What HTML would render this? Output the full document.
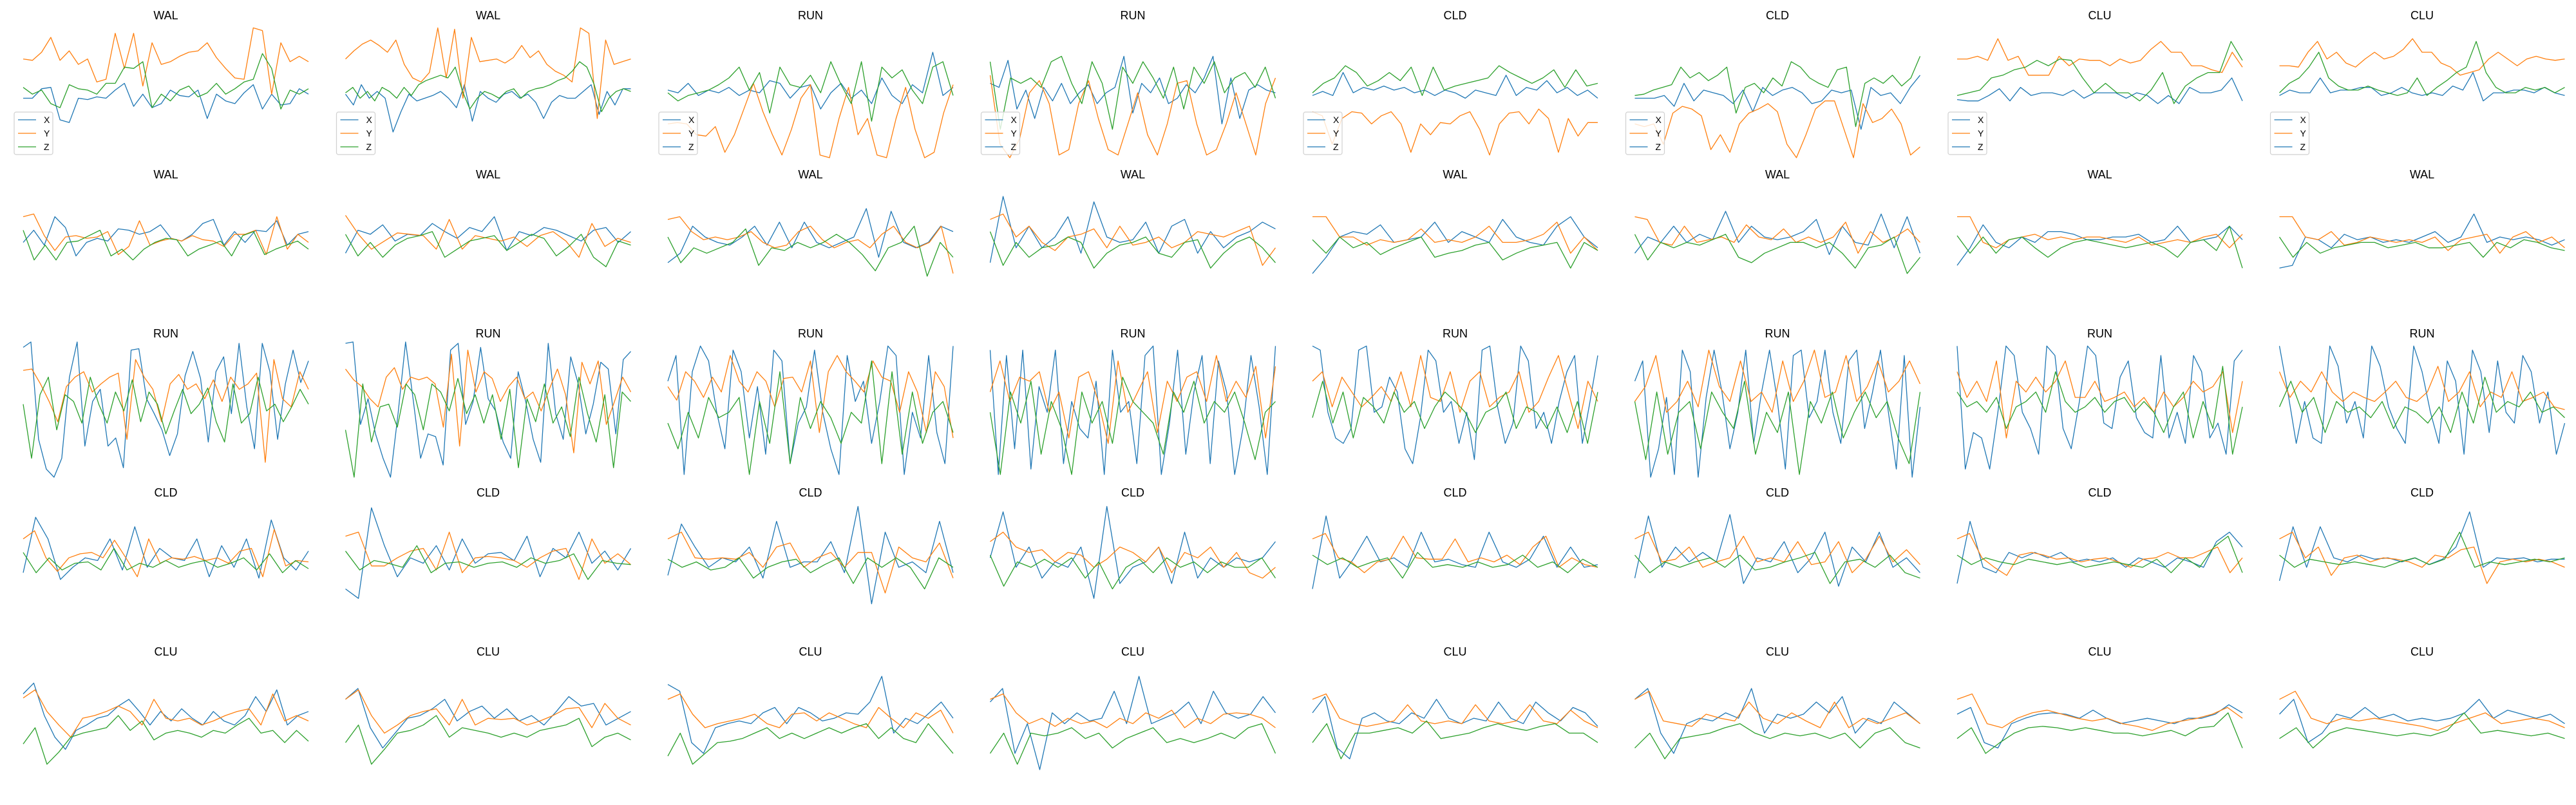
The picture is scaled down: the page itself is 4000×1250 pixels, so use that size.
<!DOCTYPE html>
<html>
<head>
<meta charset="utf-8">
<style>
  html,body{margin:0;padding:0;background:#fff;}
  svg{display:block;}
  text{font-family:"Liberation Sans","DejaVu Sans",sans-serif;}
</style>
</head>
<body>
<svg id="chart" width="4000" height="1250" viewBox="0 0 4000 1250" xmlns="http://www.w3.org/2000/svg"></svg>
<script>
// Panel titles (row-major, 5 rows x 8 columns)
const panelTitles = [
  "WAL","WAL","RUN","RUN","CLD","CLD","CLU","CLU",
  "WAL","WAL","WAL","WAL","WAL","WAL","WAL","WAL",
  "RUN","RUN","RUN","RUN","RUN","RUN","RUN","RUN",
  "CLD","CLD","CLD","CLD","CLD","CLD","CLD","CLD",
  "CLU","CLU","CLU","CLU","CLU","CLU","CLU","CLU"
];
const seriesNames = ["X","Y","Z"];

// X-axis signal per panel (normalized units 0..100 of each panel's y range)
const xSeries = [
[45,45,52,53,29,27,45,44,46,45,51,56,39,48,38,41,51,47,46,51,30,48,43,41,49,55,37,48,40,41,52,48],
[48,40,55,45,50,45,20,35,48,43,45,47,50,45,38,55,28,50,45,42,48,50,45,48,42,30,42,47,45,45,50,55,33,50,40,52,52],
[51,49,56,47,51,49,53,47,51,49,58,56,45,53,55,37,49,56,45,51,41,60,47,41,55,49,79,47,53],
[56,53,73,37,51,30,53,43,56,41,49,55,41,49,53,76,34,56,49,60,41,45,55,49,60,76,26,60,30,51,55,51,49],
[47,50,47,64,49,53,51,54,51,53,49,51,47,51,49,45,51,49,47,62,47,53,51,58,49,53,47,51,45],
[45,45,45,47,39,56,43,51,49,47,41,51,35,53,47,51,53,49,41,43,51,49,51,22,53,47,49,41,53,62],
[44,43,43,47,52,43,53,47,49,49,47,51,45,49,49,49,45,49,47,41,47,41,53,49,49,51,60,43],
[47,51,49,49,60,49,51,51,53,53,47,49,53,49,47,49,47,54,51,64,43,49,49,51,51,49,53,49,47],
[56,65,54,75,67,46,56,59,57,66,65,62,64,69,59,57,62,70,73,54,64,56,65,64,72,54,62,64],
[48,65,62,69,57,62,61,70,64,59,67,64,75,50,64,61,67,65,61,57,65,67,56,64],
[41,48,68,60,56,54,60,68,54,71,52,71,56,52,56,60,81,45,79,56,52,56,68,64],
[41,90,52,68,52,60,75,48,86,60,56,58,71,48,68,73,48,64,52,60,64,71,66],
[33,45,60,64,62,69,56,58,60,71,56,64,60,56,73,60,56,54,68,75,60,52],
[48,60,56,68,56,62,58,79,56,68,60,58,60,64,73,47,68,56,54,77,52,75,48],
[39,52,69,56,52,60,56,64,64,62,58,58,60,60,62,56,58,68,56,58,60,68,58],
[37,39,60,58,52,62,58,60,56,58,56,60,64,56,60,77,56,60,58,60,58,54,58],
[96,100,28,6,0,14,74,100,23,56,65,23,29,7,94,95,58,47,35,16,32,75,93,73,26,78,89,47,99,52,21,99,78,28,69,94,70,86],
[99,100,39,58,32,14,0,47,100,58,14,32,30,9,94,99,39,56,96,58,49,26,14,78,56,28,11,99,47,28,89,69,32,54,85,80,32,87,93],
[71,90,2,78,97,86,48,21,94,78,29,67,17,94,86,10,40,52,94,48,21,2,90,56,71,25,56,97,90,2,48,29,90,33,10,97],
[94,2,90,21,94,6,67,48,94,10,56,36,29,71,2,94,48,56,10,90,97,2,40,94,17,63,90,10,86,63,2,36,90,52,2,97],
[97,94,48,29,25,36,94,97,48,52,74,63,21,10,44,94,86,48,56,25,48,13,94,97,52,25,40,97,86,36,48,25,56,78,90,25,56,90],
[71,86,0,21,59,2,94,78,0,59,94,63,21,48,94,25,63,94,56,6,90,94,44,56,94,48,25,86,94,36,63,94,48,6,90,0,52],
[97,6,33,29,6,48,97,90,48,36,17,97,90,36,21,56,97,90,40,36,74,86,44,33,29,90,29,48,25,90,78,29,40,17,86,94],
[97,63,25,56,29,25,97,82,40,56,29,97,82,52,36,25,97,78,48,25,86,71,17,94,78,33,86,48,40,90,78,40,63,17,40],
[47,88,72,42,51,58,56,72,49,81,51,65,58,56,72,44,67,51,72,43,86,58,49,63],
[35,28,95,67,44,58,54,67,49,72,54,61,62,56,74,44,65,58,77,54,63,49,65],
[45,83,66,51,58,55,66,43,85,51,55,55,70,47,96,24,77,51,55,47,85,47],
[58,92,51,66,43,55,51,66,28,96,39,51,55,66,39,77,43,58,51,58,55,58,70],
[35,89,43,57,74,55,58,51,77,55,57,53,51,77,55,51,57,74,51,66,51,53],
[43,89,51,66,55,62,55,90,39,58,55,70,47,58,77,37,66,55,77,51,58,47],
[39,85,51,47,62,58,62,58,62,55,57,55,58,51,58,55,51,58,55,51,70,77,66],
[41,81,51,81,58,55,60,57,58,55,58,53,57,66,92,51,58,57,58,55,57,57],
[75,83,59,43,34,48,52,57,59,66,71,62,52,62,55,64,57,52,62,55,52,59,73,62,78,52,59,62],
[71,79,50,35,46,57,59,64,71,55,62,66,57,64,55,59,52,62,73,66,68,52,57,62],
[82,77,39,31,50,53,55,53,61,65,53,65,61,55,57,61,60,69,88,46,57,53,61,69,57],
[69,79,31,53,19,61,53,61,55,57,77,53,88,53,57,61,69,53,77,61,57,60,73,61],
[61,73,35,27,57,61,55,53,61,57,71,57,53,57,55,69,57,53,69,61,55,65,61,51],
[71,79,46,31,53,57,55,61,57,79,46,60,57,60,69,61,73,46,57,53,69,61,53],
[60,65,39,35,53,57,60,61,60,57,63,57,53,55,57,55,53,57,57,60,67,61],
[60,71,39,46,60,57,65,57,60,55,57,55,57,61,71,57,63,60,57,60,53]
];

// Y-axis signal per panel
const ySeries = [
[74,73,79,90,73,80,70,74,57,59,93,67,93,54,86,70,72,76,79,80,86,75,67,60,59,97,95,48,86,72,76,72],
[74,80,85,88,84,79,88,70,60,57,64,97,60,96,45,90,72,73,74,71,75,84,75,80,70,65,62,57,97,93,30,88,70,72,74],
[26,27,26,18,17,24,5,18,37,56,35,18,3,22,45,55,3,1,30,53,18,30,3,1,30,53,22,1,5,34,55],
[62,11,1,15,49,58,41,3,7,41,58,30,7,3,26,49,18,3,26,56,58,26,3,7,26,49,26,3,41,60],
[35,32,11,30,35,34,26,32,35,26,5,26,18,27,26,32,35,22,3,26,34,35,26,37,30,5,30,17,27,27],
[26,24,26,11,34,39,37,32,7,18,5,26,34,37,41,35,11,1,18,37,43,43,22,1,41,27,30,37,26,3,9],
[74,74,76,73,89,73,76,62,62,62,76,69,74,73,73,69,74,71,73,81,87,79,79,69,69,66,64,79,68],
[69,69,68,79,87,74,79,71,68,74,79,74,76,81,89,79,79,71,68,62,64,66,74,79,74,69,74,76,74,73,74],
[75,77,61,50,60,61,59,60,64,47,53,72,54,57,59,57,61,58,57,53,62,62,65,47,75,51,62,56],
[76,62,51,57,63,62,61,51,73,51,61,59,57,60,53,61,64,57,45,70,53,59,56],
[73,75,64,58,60,58,60,64,56,52,54,64,68,58,52,56,58,52,62,68,56,52,56,68,33],
[73,77,60,68,56,50,60,62,66,52,68,54,56,60,52,56,64,62,60,64,68,39,52],
[75,75,60,60,54,58,56,58,66,56,58,56,60,68,56,56,58,62,71,48,60,50],
[75,73,56,54,68,56,58,60,56,69,60,58,66,56,60,56,60,71,48,64,56,60,66,56],
[75,75,56,52,58,60,62,58,60,58,60,60,58,56,60,54,56,58,56,60,62,52,62],
[75,75,60,58,64,54,56,60,58,56,58,56,60,50,58,60,62,48,60,64,56,60,52],
[79,80,69,56,41,67,74,78,63,69,74,77,28,87,74,65,41,69,76,65,69,58,72,56,74,65,69,77,11,87,58,52,78,65],
[80,72,67,58,52,74,81,65,74,72,74,69,37,91,23,94,63,78,73,56,67,74,58,63,49,65,80,61,18,85,69,86,39,56,74,63],
[67,57,78,71,59,74,63,90,71,63,78,71,52,73,74,63,86,33,78,90,78,71,63,86,74,71,48,78,63,33,78,67,29],
[63,86,56,74,71,78,48,63,29,74,78,56,25,86,48,63,78,33,71,56,74,78,56,90,56,71,59,82,29,82],
[71,78,52,74,63,52,59,67,56,78,52,90,59,56,78,48,71,78,52,59,63,78,48,56,74,90,63,36,71,56],
[56,67,90,48,56,71,52,94,67,56,86,56,63,48,86,56,71,94,59,63,90,56,67,86,63,71,86,69],
[78,59,71,56,86,29,71,63,74,63,71,86,59,59,71,56,59,63,52,59,48,63,52,59,71,63,67,78,33,71],
[78,59,71,63,78,63,56,63,59,56,63,71,59,56,63,82,56,63,78,52,63,59,78,56,59,63,52,50],
[72,78,58,48,58,61,62,58,71,58,44,72,54,58,57,59,56,58,54,63,65,44,79,52,56,55],
[74,77,52,52,58,63,65,49,77,47,58,59,58,56,51,58,63,65,42,72,54,61,53],
[72,77,58,57,58,57,62,51,66,69,51,58,62,51,62,62,32,66,58,55,69,43],
[70,77,66,62,64,55,62,60,51,57,66,62,55,66,47,62,58,66,51,62,47,43,51],
[72,76,58,55,47,55,57,74,58,57,57,72,55,58,55,60,53,66,74,51,58,53,51],
[72,77,55,57,66,51,55,58,74,55,58,55,70,53,55,70,47,57,74,55,64,53],
[72,76,58,51,45,60,62,60,57,58,55,57,58,55,51,57,58,62,58,58,62,66,47,58],
[72,77,58,66,45,58,60,55,58,57,55,51,60,58,64,66,39,55,57,55,57,55,51],
[72,78,62,52,43,57,59,62,66,62,52,71,57,55,57,52,55,59,62,64,52,75,55,59,55],
[71,78,59,46,52,59,62,64,52,71,52,57,56,57,52,55,59,64,65,50,68,57,52],
[71,75,60,50,53,55,57,60,53,50,60,61,55,61,57,53,50,65,57,50,61,57,63,46],
[71,75,61,53,57,51,57,53,55,50,57,53,61,57,63,50,57,53,60,61,60,57,50],
[71,75,57,53,51,53,55,67,55,53,55,53,67,55,53,55,67,55,53,63,55,50],
[71,77,55,53,51,60,57,55,69,57,53,61,55,50,69,50,57,53,57,61,53],
[71,75,53,50,57,61,63,60,57,55,57,53,51,48,53,55,57,60,65,57],
[71,77,57,53,57,55,57,55,53,51,48,53,57,61,53,55,57,55,50]
];

// Z-axis signal per panel
const zSeries = [
[53,48,51,41,38,55,52,51,48,56,56,68,67,72,38,48,43,51,54,46,49,56,48,52,57,59,78,67,37,51,48,52],
[49,53,45,50,43,53,50,45,53,47,55,58,60,62,60,68,50,37,45,50,48,45,50,52,45,50,52,53,55,58,60,65,72,68,55,35,45,50,52,50],
[49,43,47,49,51,55,60,68,51,64,34,68,55,53,62,49,72,55,41,72,28,68,60,66,51,41,68,72,47],
[72,22,60,56,60,53,72,76,56,41,72,56,22,68,56,72,60,45,68,37,68,56,72,49,60,64,53,68,45],
[49,56,60,69,64,54,58,64,58,68,47,68,51,54,56,58,60,69,64,60,56,60,66,53,66,54,56],
[47,48,51,53,55,68,60,64,58,62,68,34,53,56,49,60,54,72,68,60,56,53,66,68,24,56,60,56,62,54,60,76],
[47,49,51,60,62,66,68,73,69,74,73,60,49,56,49,49,43,51,64,41,54,60,64,64,87,73],
[49,56,60,68,79,60,54,51,51,54,51,49,47,49,60,47,53,58,64,68,87,64,53,49,49,53,51,53,49,53],
[65,43,54,43,56,57,61,65,46,51,43,51,56,59,58,46,51,54,57,46,61,64,47,51,54,57,51],
[62,46,56,45,54,59,61,64,45,51,57,59,61,50,56,62,59,46,53,62,45,38,57,54],
[60,41,52,48,52,56,66,39,52,50,56,52,56,62,56,47,35,52,56,68,31,56,45],
[64,39,56,45,52,54,60,56,37,48,54,56,60,48,45,56,58,37,48,56,60,52,41],
[58,48,60,52,56,47,52,56,60,45,48,50,54,56,43,48,52,54,56,37,56,50],
[62,43,56,52,56,54,58,62,45,41,48,52,56,56,52,56,48,37,52,54,60,33,45],
[61,48,60,48,58,60,52,45,52,56,58,56,54,52,54,56,52,45,56,58,50,68,37],
[60,45,56,48,52,54,56,56,52,54,56,52,52,54,56,45,56,52,58,56,52,50],
[54,14,61,74,35,61,56,40,74,54,40,63,49,72,41,63,54,32,49,65,47,54,66,41,26,69,40,47,74,49,54,41,52,65,54],
[35,0,69,26,52,54,37,69,61,35,69,63,49,73,47,61,40,61,28,65,7,58,41,69,40,52,30,74,47,26,61,7,63,56],
[40,21,48,29,59,44,48,59,2,56,25,78,10,59,36,56,44,25,48,40,86,10,78,17,63,25,48,56,33],
[48,2,63,40,71,17,56,36,2,63,40,56,25,74,56,48,40,17,63,48,71,40,56,48,63,40,13,48,56],
[44,71,40,63,29,59,52,40,63,48,56,36,52,63,56,48,33,48,52,63,36,52,48,36,52,33,56,25,63],
[56,13,63,17,48,56,21,63,48,36,71,17,48,33,63,2,56,40,63,29,48,63,44,56,29,10,63],
[63,52,56,48,59,36,52,56,63,48,78,56,48,52,59,48,56,59,48,56,48,33,52,63,29,56,36,82,17,52],
[52,71,48,59,33,56,48,52,44,56,36,52,48,40,52,33,63,40,74,48,56,52,63,48,52,44],
[62,47,58,49,54,55,49,65,49,54,51,56,51,54,56,51,54,58,49,61,47,56,50],
[63,49,56,54,51,67,47,54,55,51,54,55,51,58,54,56,61,42,56,54,53],
[57,51,55,49,51,58,43,51,55,57,47,53,58,39,58,51,58,51,35,58,51],
[60,37,55,51,57,51,58,43,55,35,51,57,47,58,51,55,47,55,51,51,58,43],
[60,53,58,51,55,58,43,62,51,53,51,55,51,53,60,51,55,47,57,51],
[60,47,55,51,55,58,51,60,49,51,55,58,62,39,55,57,51,60,47,43],
[60,53,58,55,53,57,55,53,55,51,53,55,53,51,57,47,58,51,66,74,47],
[60,51,57,55,53,55,53,51,55,58,53,57,77,51,55,53,55,57,55,58],
[38,50,23,32,43,46,48,50,59,48,55,41,46,48,46,43,48,46,52,57,46,48,39,48,40],
[39,52,23,34,46,48,52,59,43,50,48,46,43,46,43,48,50,52,57,36,43,46,41],
[29,46,23,31,39,40,42,46,50,42,46,42,46,50,46,50,53,42,50,42,39,53,42,31],
[31,46,23,46,44,46,50,42,46,35,42,46,50,39,42,39,42,46,42,50,53,31],
[39,53,27,46,46,48,50,46,55,42,44,46,50,53,50,48,51,53,46,46,39],
[35,46,27,42,44,46,50,53,46,42,46,44,46,42,46,35,46,50,39,35],
[42,50,31,39,46,50,51,50,48,50,48,46,46,44,46,48,44,50,51,61,35],
[42,50,35,46,50,48,46,44,46,44,48,61,46,48,46,44,46,42]
];

const svgNS = "http://www.w3.org/2000/svg";
const svg = document.getElementById("chart");
const colors = ["#1f77b4","#ff7f0e","#2ca02c"];
const COLS = 8, COL_STEP = 500.5, ROW_STEP = 247;
const AX_LEFT = 36, AX_TOP = 37, AX_W = 443, AX_H = 210;
const Y_MIN = 0, Y_MAX = 100;

function panelBox(p){
  const r = Math.floor(p / COLS), c = p % COLS;
  return {left: AX_LEFT + c*COL_STEP, top: AX_TOP + r*ROW_STEP, r: r, c: c};
}
function xScale(box, i, n){ return box.left + AX_W * i / (n - 1); }
function yScale(box, v){ return box.top + AX_H * (1 - (v - Y_MIN) / (Y_MAX - Y_MIN)); }

const allSeries = [xSeries, ySeries, zSeries];

for (let p = 0; p < panelTitles.length; p++){
  const box = panelBox(p);
  const g = document.createElementNS(svgNS, "g");
  
  
  svg.appendChild(g);

  const t = document.createElementNS(svgNS, "text");
  
  
  t.setAttribute("x", box.left + AX_W/2);
  t.setAttribute("y", box.top - 7);
  t.setAttribute("text-anchor", "middle");
  t.setAttribute("font-size", "18");
  t.setAttribute("fill", "#000");
  t.textContent = panelTitles[p];
  g.appendChild(t);

  for (let s = 0; s < 3; s++){
    const vals = allSeries[s][p];
    const pts = vals.map((v, i) => xScale(box, i, vals.length).toFixed(1) + "," + yScale(box, v).toFixed(1)).join(" ");
    const pl = document.createElementNS(svgNS, "polyline");
    
    
    pl.setAttribute("points", pts);
    pl.setAttribute("fill", "none");
    pl.setAttribute("stroke", colors[s]);
    pl.setAttribute("stroke-width", "1.3");
    pl.setAttribute("stroke-linejoin", "round");
    g.appendChild(pl);
  }

  if (box.r === 0){
    const lg = document.createElementNS(svgNS, "g");
    
    
    g.appendChild(lg);
    const lx = box.left - 14, ly = 174;
    const rect = document.createElementNS(svgNS, "rect");
    
    
    rect.setAttribute("x", lx); rect.setAttribute("y", ly);
    rect.setAttribute("width", 60); rect.setAttribute("height", 66);
    rect.setAttribute("rx", 3);
    rect.setAttribute("fill", "rgba(255,255,255,0.8)");
    rect.setAttribute("stroke", "#d0d0d0");
    rect.setAttribute("stroke-width", "1.2");
    lg.appendChild(rect);
    for (let s = 0; s < 3; s++){
      const yy = ly + 12 + s*21;
      const col = (s === 2 && box.c >= 2) ? colors[0] : colors[s];
      const ln = document.createElementNS(svgNS, "line");
      
      
      ln.setAttribute("x1", lx + 6); ln.setAttribute("x2", lx + 34);
      ln.setAttribute("y1", yy); ln.setAttribute("y2", yy);
      ln.setAttribute("stroke", col);
      ln.setAttribute("stroke-width", "1.3");
      lg.appendChild(ln);
      const tx = document.createElementNS(svgNS, "text");
      
      
      tx.setAttribute("x", lx + 46); tx.setAttribute("y", yy + 5);
      tx.setAttribute("font-size", "14");
      tx.setAttribute("fill", "#000");
      tx.textContent = seriesNames[s];
      lg.appendChild(tx);
    }
  }
}
</script>
</body>
</html>
